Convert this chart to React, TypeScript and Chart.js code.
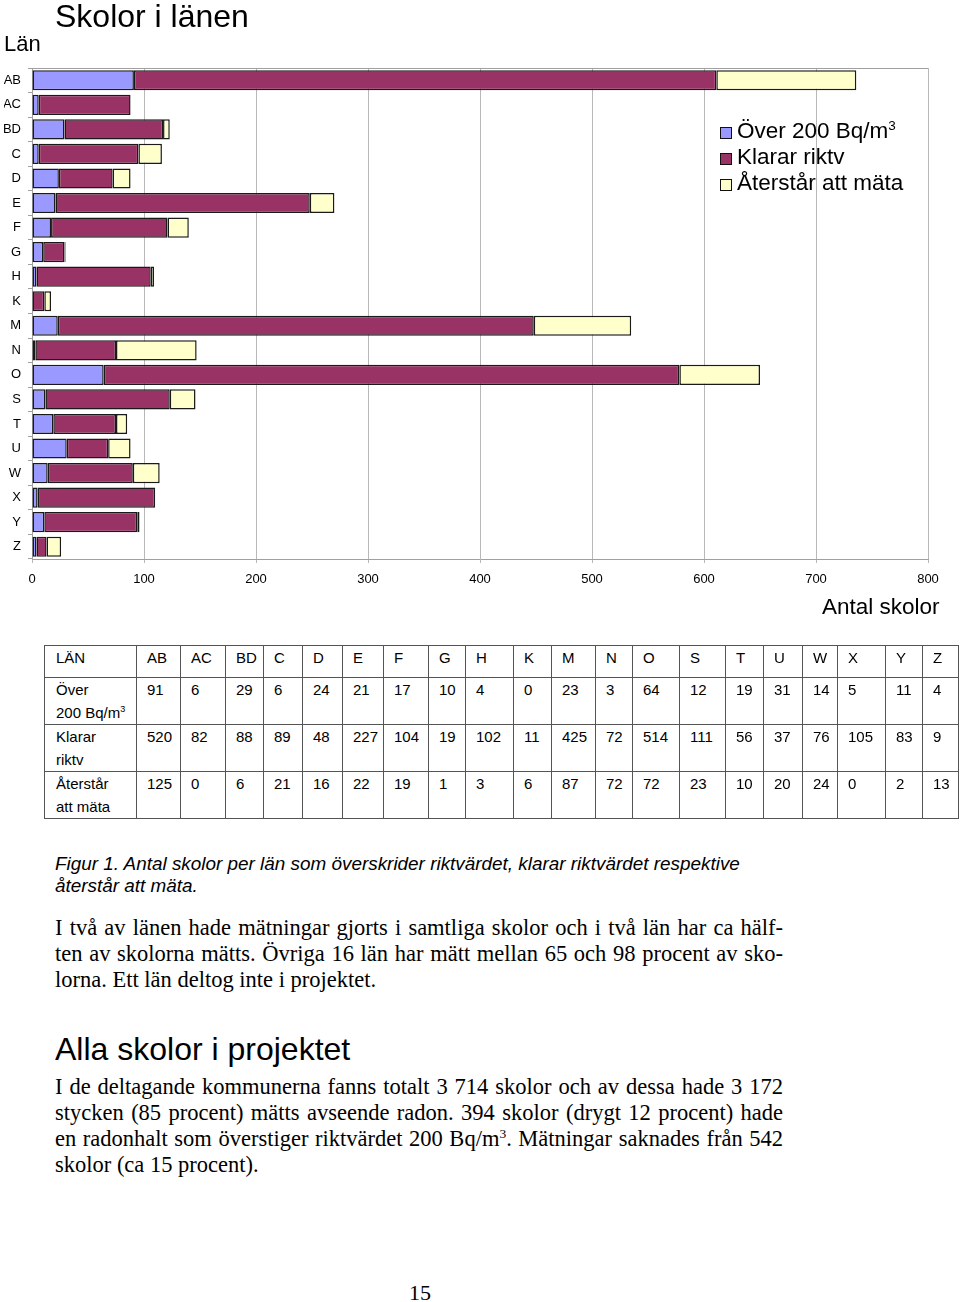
import React, { useEffect, useRef } from 'react';
import { Chart, registerables } from 'chart.js';

Chart.register(...registerables);

// ---- Data ----
const lan = ['AB', 'AC', 'BD', 'C', 'D', 'E', 'F', 'G', 'H', 'K', 'M', 'N', 'O', 'S', 'T', 'U', 'W', 'X', 'Y', 'Z'];
const over200 = [91, 6, 29, 6, 24, 21, 17, 10, 4, 0, 23, 3, 64, 12, 19, 31, 14, 5, 11, 4];
const klarar = [520, 82, 88, 89, 48, 227, 104, 19, 102, 11, 425, 72, 514, 111, 56, 37, 76, 105, 83, 9];
const aterstar = [125, 0, 6, 21, 16, 22, 19, 1, 3, 6, 87, 72, 72, 23, 10, 20, 24, 0, 2, 13];
const xTicks = [0, 100, 200, 300, 400, 500, 600, 700, 800];
const seriesNames = ['Över 200 Bq/m³', 'Klarar riktv', 'Återstår att mäta'];
const seriesColors = ['#9999FF', '#993366', '#FFFFCC'];
const tableRowLabels = [['Över', '200 Bq/m³'], ['Klarar', 'riktv'], ['Återstår', 'att mäta']];
const tableRows = [over200, klarar, aterstar];

const SANS = '"Liberation Sans", Arial, sans-serif';
const SERIF = '"Liberation Serif", "Times New Roman", serif';

const colWidths = [92, 44, 45, 38, 39, 40, 41, 45, 37, 48, 38, 44, 37, 47, 46, 38, 39, 35, 48, 37, 36];

function withSup(text: string) {
  const i = text.indexOf('³');
  if (i < 0) return text;
  return (
    <>
      {text.slice(0, i)}
      <sup style={{ fontSize: '0.6em', verticalAlign: 'super', lineHeight: 0 }}>3</sup>
      {text.slice(i + 1)}
    </>
  );
}

const topBorder = {
  id: 'topBorder',
  afterDraw(chart: any) {
    const { ctx, chartArea } = chart;
    ctx.save();
    ctx.strokeStyle = '#a0a0a0';
    ctx.lineWidth = 1;
    ctx.beginPath();
    ctx.moveTo(chartArea.left, Math.round(chartArea.top) + 0.5);
    ctx.lineTo(chartArea.right, Math.round(chartArea.top) + 0.5);
    ctx.stroke();
    ctx.restore();
  },
};

function BarChart() {
  const ref = useRef<HTMLCanvasElement>(null);
  useEffect(() => {
    if (!ref.current) return;
    const series = [over200, klarar, aterstar];
    const chart = new Chart(ref.current, {
      type: 'bar',
      data: {
        labels: lan,
        datasets: series.map((d, i) => ({
          label: seriesNames[i],
          data: d,
          backgroundColor: seriesColors[i],
          borderColor: '#1a1a1a',
          borderWidth: (c: any) => (c.raw === 0 ? 0 : 1.5),
          borderSkipped: false,
          categoryPercentage: 1,
          barPercentage: 0.82,
        })),
      },
      options: {
        indexAxis: 'y',
        responsive: false,
        animation: false,
        devicePixelRatio: 1,
        layout: { padding: { left: 4, top: 68, right: 32, bottom: 0 } },
        plugins: {
          legend: { display: false },
          title: { display: false },
          tooltip: { enabled: false },
        },
        scales: {
          x: {
            stacked: true,
            min: 0,
            max: 800,
            afterBuildTicks: (s: any) => {
              s.ticks = xTicks.map((v) => ({ value: v }));
            },
            ticks: { font: { family: SANS, size: 13 }, color: '#000', padding: 9, maxRotation: 0 },
            grid: { color: '#b8b8b8', tickLength: 4 },
            border: { color: '#a0a0a0' },
            afterFit: (s: any) => {
              s.height = 66;
            },
          },
          y: {
            stacked: true,
            ticks: { font: { family: SANS, size: 13 }, color: '#000', padding: 7, autoSkip: false },
            grid: { drawOnChartArea: false, tickLength: 4, color: '#a0a0a0' },
            border: { color: '#a0a0a0' },
            afterFit: (s: any) => {
              s.width = 28;
            },
          },
        },
      } as any,
      plugins: [topBorder],
    });
    return () => chart.destroy();
  }, []);
  return (
    <canvas
      ref={ref}
      width={960}
      height={625}
      style={{ position: 'absolute', left: 0, top: 0, width: 960, height: 625 }}
    />
  );
}

const abs = (left: number, top: number, extra: React.CSSProperties = {}): React.CSSProperties => ({
  position: 'absolute',
  left,
  top,
  whiteSpace: 'nowrap',
  ...extra,
});

function JLine({ text, top, last, size, lh }: { text: React.ReactNode; top: number; last?: boolean; size: number; lh: number }) {
  return (
    <div
      style={{
        position: 'absolute',
        left: 55,
        top,
        width: 728,
        fontFamily: SERIF,
        fontSize: size,
        lineHeight: `${lh}px`,
        textAlign: last ? 'left' : 'justify',
        textAlignLast: last ? 'left' : 'justify',
        whiteSpace: 'nowrap',
        color: '#000',
      } as React.CSSProperties}
    >
      {text}
    </div>
  );
}

export default function App() {
  const cell: React.CSSProperties = {
    border: '1px solid #555',
    padding: '0 0 0 10px',
    verticalAlign: 'top',
    textAlign: 'left',
    fontWeight: 'normal',
    overflow: 'hidden',
    whiteSpace: 'nowrap',
  };
  return (
    <div
      style={{
        position: 'absolute',
        left: 0,
        top: 0,
        width: 960,
        height: 1302,
        overflow: 'hidden',
        background: '#fff',
        color: '#000',
      }}
    >
      <BarChart />
      <div style={abs(55, -3, { fontFamily: SANS, fontSize: 32, lineHeight: '38px' })}>Skolor i länen</div>
      <div style={abs(4, 31, { fontFamily: SANS, fontSize: 22, lineHeight: '26px' })}>Län</div>
      <div style={abs(822, 594, { fontFamily: SANS, fontSize: 22.5, lineHeight: '26px' })}>Antal skolor</div>

      <div style={abs(720, 118, { fontFamily: SANS, fontSize: 22.5, lineHeight: '26px' })}>
        {seriesNames.map((n, i) => (
          <div key={n} style={{ display: 'flex', alignItems: 'center', height: 26 }}>
            <span
              style={{
                display: 'inline-block',
                width: 12,
                height: 12,
                boxSizing: 'border-box',
                border: '1px solid #111',
                background: seriesColors[i],
                marginRight: 5,
                marginTop: 3,
              }}
            />
            <span>{withSup(n)}</span>
          </div>
        ))}
      </div>

      <table
        style={{
          position: 'absolute',
          left: 44,
          top: 645,
          width: 913,
          borderCollapse: 'collapse',
          tableLayout: 'fixed',
          fontFamily: SANS,
          fontSize: 15,
          lineHeight: '23px',
        }}
      >
        <colgroup>
          {colWidths.map((w, i) => (
            <col key={i} style={{ width: w }} />
          ))}
        </colgroup>
        <tbody>
          <tr style={{ height: 32 }}>
            <td style={{ ...cell, paddingLeft: 11 }}>LÄN</td>
            {lan.map((l) => (
              <td key={l} style={cell}>
                {l}
              </td>
            ))}
          </tr>
          {tableRows.map((row, r) => (
            <tr key={r} style={{ height: 47 }}>
              <td style={{ ...cell, paddingLeft: 11 }}>
                {tableRowLabels[r][0]}
                <br />
                {withSup(tableRowLabels[r][1])}
              </td>
              {row.map((v, i) => (
                <td key={i} style={cell}>
                  {v}
                </td>
              ))}
            </tr>
          ))}
        </tbody>
      </table>

      <div style={abs(55, 853, { fontFamily: SANS, fontSize: 18.9, lineHeight: '22px', fontStyle: 'italic' })}>
        Figur 1. Antal skolor per län som överskrider riktvärdet, klarar riktvärdet respektive
        <br />
        återstår att mäta.
      </div>

      <JLine size={22.5} lh={26} top={915} text="I två av länen hade mätningar gjorts i samtliga skolor och i två län har ca hälf-" />
      <JLine size={22.5} lh={26} top={941} text="ten av skolorna mätts. Övriga 16 län har mätt mellan 65 och 98 procent av sko-" />
      <JLine size={22.5} lh={26} top={967} last text="lorna. Ett län deltog inte i projektet." />

      <div style={abs(55, 1030, { fontFamily: SANS, fontSize: 32, lineHeight: '38px' })}>Alla skolor i projektet</div>

      <JLine size={22.5} lh={26} top={1074} text="I de deltagande kommunerna fanns totalt 3 714 skolor och av dessa hade 3 172" />
      <JLine size={22.5} lh={26} top={1100} text="stycken (85 procent) mätts avseende radon. 394 skolor (drygt 12 procent) hade" />
      <JLine
        size={22.5}
        lh={26}
        top={1126}
        text={<>en radonhalt som överstiger riktvärdet 200 Bq/m<sup style={{ fontSize: '0.6em', verticalAlign: 'super', lineHeight: 0 }}>3</sup>. Mätningar saknades från 542</>}
      />
      <JLine size={22.5} lh={26} top={1152} last text="skolor (ca 15 procent)." />

      <div style={abs(409, 1280, { fontFamily: SERIF, fontSize: 22, lineHeight: '26px' })}>15</div>
    </div>
  );
}
